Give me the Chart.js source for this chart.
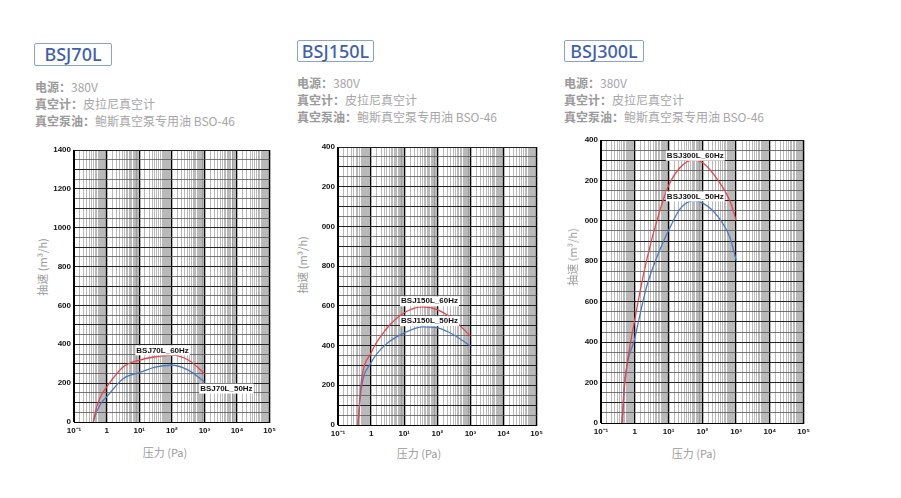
<!DOCTYPE html>
<html>
<head>
<meta charset="utf-8">
<script src="https://cdn.jsdelivr.net/npm/chart.js@4"></script>
<style>
body { margin: 0; background: #fff; width: 901px; height: 498px; position: relative; overflow: hidden;
       font-family: 'Noto Sans CJK SC', 'Noto Sans', sans-serif; }
.tag { position: absolute; box-sizing: border-box; border: 1.5px solid #8aa1d4; border-radius: 2px; color: #3f5fae;
       font-size: 18px; font-weight: 500; line-height: 20px; text-align: center; font-family: 'Noto Sans', 'Noto Sans CJK SC', sans-serif; }
.info { position: absolute; font-size: 12px; line-height: 17px; color: #a6a6a6; white-space: nowrap; }
.info b { font-weight: 600; color: #9a9a9a; }
.axt { position: absolute; font-size: 11px; color: #9a9a9a; white-space: nowrap; transform: translate(-50%, -50%); }
.axt.v { transform: translate(-50%, -50%) rotate(-90deg); }
canvas { position: absolute; }
</style>
</head>
<body>

<div class="tag" style="left:34px;top:43px;width:78px;height:23px;">BSJ70L</div>
<div class="info" style="left:35px;top:78px;"><b>电源：</b>380V<br><b>真空计：</b>皮拉尼真空计<br><b>真空泵油：</b>鲍斯真空泵专用油 BSO-46</div>
<div class="tag" style="left:297px;top:40px;width:77px;height:22px;">BSJ150L</div>
<div class="info" style="left:297px;top:74px;"><b>电源：</b>380V<br><b>真空计：</b>皮拉尼真空计<br><b>真空泵油：</b>鲍斯真空泵专用油 BSO-46</div>
<div class="tag" style="left:564px;top:40px;width:80px;height:22px;">BSJ300L</div>
<div class="info" style="left:564px;top:74px;"><b>电源：</b>380V<br><b>真空计：</b>皮拉尼真空计<br><b>真空泵油：</b>鲍斯真空泵专用油 BSO-46</div>

<canvas id="c70" width="230" height="304" style="left:50px;top:138px;"></canvas>
<canvas id="c150" width="233" height="310" style="left:314px;top:135px;"></canvas>
<canvas id="c300" width="237" height="315" style="left:577px;top:128px;"></canvas>

<div class="axt v" style="left:42px;top:267px;">抽速 (m³/h)</div>
<div class="axt" style="left:165px;top:452px;">压力 (Pa)</div>
<div class="axt v" style="left:302px;top:265px;">抽速 (m³/h)</div>
<div class="axt" style="left:419px;top:453px;">压力 (Pa)</div>
<div class="axt v" style="left:572px;top:257px;">抽速 (m³/h)</div>
<div class="axt" style="left:694px;top:453px;">压力 (Pa)</div>

<script>
// x axis: decades and the dense log grid inside each one
var decades = [-1, 0, 1, 2, 3, 4, 5];
var xTickLabels = ['10⁻¹', '1', '10¹', '10²', '10³', '10⁴', '10⁵'];
var gridSteps = [1, 1.5, 2, 2.5, 3, 3.5, 4, 4.5, 5, 5.5, 6, 6.5, 7, 7.5, 8, 8.5, 9, 9.5];
var speedTicks = [];
for (var s = 0; s <= 1400; s += 50) speedTicks.push(s);

// BSJ70L
var pressure70 = [0.39, 0.5, 0.7, 1, 3.2, 10, 31, 100, 330, 1000];
var speed70_60 = [0, 80, 140, 180, 283, 318, 335, 344, 318, 250];
var speed70_50 = [0, 55, 100, 129, 223, 254, 283, 292, 266, 206];
var labelPressure70 = [52, 4700];
var labelSpeed70 = [369, 172];

// BSJ150L
var pressure150 = [0.4, 0.45, 0.5, 1, 2.8, 10, 36, 100, 300, 1000];
var speed150_60 = [0, 120, 214, 364, 481, 565, 595, 581, 531, 448];
var speed150_50 = [0, 100, 180, 314, 406, 464, 494, 489, 456, 398];
var labelPressure150 = [58, 58];
var labelSpeed150 = [623, 523];

// BSJ300L
var pressure300 = [0.42, 0.5, 1, 2.3, 5.7, 10, 22, 55, 100, 275, 680, 1000];
var speed300_60 = [0, 190, 510, 813, 1059, 1174, 1264, 1302, 1289, 1207, 1092, 1002];
var speed300_50 = [0, 200, 419, 681, 862, 952, 1059, 1100, 1089, 1026, 911, 805];
var labelPressure300 = [62, 62];
var labelSpeed300 = [1322, 1121];

var gridValues = [];
decades.forEach(function (d) {
    if (d === 5) { gridValues.push(1e5); return; }
    gridSteps.forEach(function (m) { gridValues.push(m * Math.pow(10, d)); });
});

function isDecade(v) {
    var l = Math.log10(v);
    return Math.abs(l - Math.round(l)) < 1e-6;
}

function points(xs, ys) {
    return xs.map(function (x, i) { return { x: x, y: ys[i] }; });
}

var curveLabels = {
    id: 'curveLabels',
    afterDatasetsDraw: function (chart, args, opts) {
        var ctx = chart.ctx;
        ctx.save();
        ctx.font = 'bold 8px "Liberation Sans Narrow", "Liberation Sans", sans-serif';
        ctx.textAlign = 'center';
        ctx.textBaseline = 'middle';
        opts.texts.forEach(function (t, i) {
            var px = chart.scales.x.getPixelForValue(opts.pressure[i]);
            var py = chart.scales.y.getPixelForValue(opts.speed[i]);
            var w = ctx.measureText(t).width;
            ctx.fillStyle = '#fff';
            ctx.fillRect(px - w / 2 - 1, py - 5, w + 2, 10);
            ctx.fillStyle = '#111';
            ctx.fillText(t, px, py);
        });
        ctx.restore();
    }
};

function makeChart(id, name, pressure, s60, s50, lp, ls, fmt) {
    new Chart(document.getElementById(id), {
        type: 'line',
        data: {
            datasets: [{
                label: name + '_60Hz',
                data: points(pressure, s60),
                borderColor: '#e8434b',
                borderWidth: 1.3,
                pointRadius: 0,
                cubicInterpolationMode: 'monotone',
                fill: false
            }, {
                label: name + '_50Hz',
                data: points(pressure, s50),
                borderColor: '#4a79c4',
                borderWidth: 1.3,
                pointRadius: 0,
                cubicInterpolationMode: 'monotone',
                fill: false
            }]
        },
        options: {
            responsive: false,
            animation: false,
            devicePixelRatio: 1,
            layout: { padding: { top: 12, right: 10, left: 0, bottom: 0 } },
            plugins: {
                legend: { display: false },
                tooltip: { enabled: false },
                curveLabels: { texts: [name + '_60Hz', name + '_50Hz'], pressure: lp, speed: ls }
            },
            scales: {
                x: {
                    type: 'logarithmic',
                    min: 0.1,
                    max: 1e5,
                    afterBuildTicks: function (scale) {
                        scale.ticks = gridValues.map(function (v) { return { value: v }; });
                    },
                    afterFit: function (scale) { scale.height = 20; },
                    ticks: {
                        autoSkip: false,
                        maxRotation: 0,
                        padding: 4,
                        color: '#111',
                        font: { size: 8, weight: 'bold', family: '"Liberation Sans Narrow", "Liberation Sans", sans-serif' },
                        callback: function (v) {
                            if (!isDecade(v)) return '';
                            return xTickLabels[decades.indexOf(Math.round(Math.log10(v)))];
                        }
                    },
                    grid: {
                        drawTicks: false,
                        color: function (c) { return c.tick && isDecade(c.tick.value) ? '#000' : '#8a8a8a'; },
                        lineWidth: function (c) { return c.tick && isDecade(c.tick.value) ? 1.3 : 0.6; }
                    },
                    border: { color: '#000', width: 1 }
                },
                y: {
                    min: 0,
                    max: 1400,
                    afterBuildTicks: function (scale) {
                        scale.ticks = speedTicks.map(function (v) { return { value: v }; });
                    },
                    afterFit: function (scale) { scale.width = 24; },
                    ticks: {
                        autoSkip: false,
                        padding: 3,
                        color: '#111',
                        font: { size: 8, weight: 'bold', family: '"Liberation Sans Narrow", "Liberation Sans", sans-serif' },
                        callback: function (v) { return v % 200 === 0 ? fmt(v) : ''; }
                    },
                    grid: {
                        drawTicks: false,
                        color: function (c) { return c.tick && c.tick.value % 100 === 0 ? '#222' : '#555'; },
                        lineWidth: function (c) { return c.tick && c.tick.value % 100 === 0 ? 1 : 0.8; }
                    },
                    border: { color: '#000', width: 1 }
                }
            }
        },
        plugins: [curveLabels]
    });
}

var fullLabel = function (v) { return String(v); };
var cutLabel = function (v) { return v >= 1000 ? String(v).slice(-3) : String(v); };

makeChart('c70', 'BSJ70L', pressure70, speed70_60, speed70_50, labelPressure70, labelSpeed70, fullLabel);
makeChart('c150', 'BSJ150L', pressure150, speed150_60, speed150_50, labelPressure150, labelSpeed150, cutLabel);
makeChart('c300', 'BSJ300L', pressure300, speed300_60, speed300_50, labelPressure300, labelSpeed300, cutLabel);
</script>
</body>
</html>
